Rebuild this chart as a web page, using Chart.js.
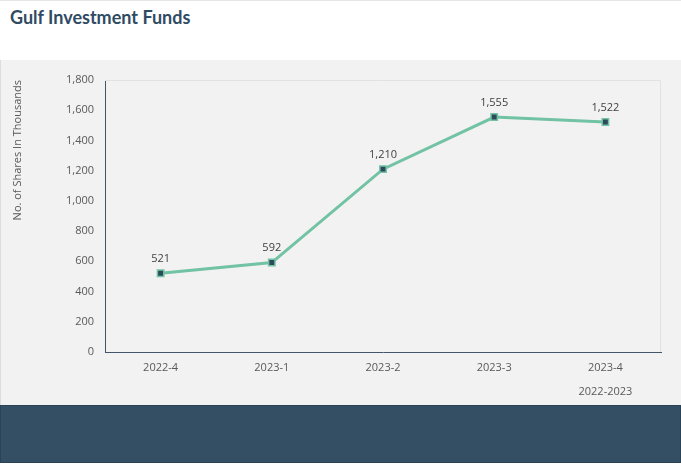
<!DOCTYPE html>
<html lang="en">
  <head>
    <meta charset="UTF-8" />
    <title>Gulf Investment Funds</title>
    <style>
      body { margin: 0; width: 681px; height: 465px; overflow: hidden; background: #fff; font-family: 'Open Sans', sans-serif; }
      .head { height: 59px; border-top: 1px solid #e6e6e6; position: relative; }
      .head h1 { margin: 0; position: absolute; left: 10px; top: 5px; font-size: 18px; font-weight: 700; color: #2f4b63; font-family: Lato, 'Open Sans', sans-serif; }
      .panel { height: 345px; background: #f2f2f2; border-left: 1px solid #dcdcdc; }
      .foot { height: 58px; background: #344f63; border: 1px solid #2a4356; box-sizing: border-box; }
    </style>
  </head>

  <body>
    <script src="https://cdn.jsdelivr.net/npm/chart.js"></script>
    <div class="head"><h1>Gulf Investment Funds</h1></div>
    <div class="panel"><canvas id="line-chart" width="680" height="345"></canvas></div>
    <div class="foot"></div>

    <script>
      const quarters = ['2022-4', '2023-1', '2023-2', '2023-3', '2023-4']
      const shares = [521, 592, 1210, 1555, 1522]
      const yTicks = [0, 200, 400, 600, 800, 1000, 1200, 1400, 1600, 1800]

      const extras = {
        id: 'extras',
        afterDraw(chart) {
          const { ctx, chartArea: a, scales } = chart
          ctx.save()
          // faint border top / right
          ctx.strokeStyle = '#e2e2e2'
          ctx.lineWidth = 1
          ctx.beginPath()
          ctx.moveTo(a.left, a.top + 0.5)
          ctx.lineTo(a.right - 0.5, a.top + 0.5)
          ctx.lineTo(a.right - 0.5, a.bottom)
          ctx.stroke()
          // value labels
          ctx.fillStyle = '#404040'
          ctx.font = '11px "Open Sans", sans-serif'
          ctx.textAlign = 'center'
          ctx.textBaseline = 'bottom'
          chart.getDatasetMeta(0).data.forEach((pt, i) => {
            ctx.fillText(shares[i].toLocaleString('en-US'), pt.x, pt.y - 9)
          })
          // x title under last category
          ctx.fillStyle = '#595959'
          ctx.textBaseline = 'middle'
          ctx.fillText('2022-2023', scales.x.getPixelForValue(quarters.length - 1), a.bottom + 40)
          ctx.restore()
        },
      }

      new Chart(document.getElementById('line-chart'), {
        type: 'line',
        data: {
          labels: quarters,
          datasets: [
            {
              label: 'Shares',
              data: shares,
              borderColor: '#72c2a4',
              borderWidth: 3,
              pointStyle: 'rect',
              pointRadius: 4.5,
              pointBackgroundColor: '#2c4a5c',
              pointBorderColor: '#72c2a4',
              pointBorderWidth: 1.5,
              tension: 0,
            },
          ],
        },
        options: {
          responsive: false,
          animation: false,
          layout: { padding: { top: 20, right: 20, left: 10, bottom: 0 } },
          plugins: { legend: { display: false }, tooltip: { enabled: false } },
          scales: {
            x: {
              offset: true,
              grid: { display: false, drawTicks: false },
              border: { color: '#44546a', width: 1 },
              ticks: { color: '#595959', font: { size: 11, family: 'Open Sans' }, padding: 9 },
              afterFit: (s) => { s.height = 53 },
            },
            y: {
              min: 0,
              max: 1800,
              afterBuildTicks: (s) => { s.ticks = yTicks.map((v) => ({ value: v })) },
              grid: { display: false, drawTicks: false },
              border: { color: '#44546a', width: 1 },
              ticks: { color: '#595959', font: { size: 11, family: 'Open Sans' }, padding: 11 },
              title: {
                display: true,
                text: 'No. of Shares In Thousands',
                align: 'end',
                color: '#595959',
                font: { size: 11, family: 'Open Sans' },
                padding: { top: 0, bottom: 0 },
              },
              afterFit: (s) => { s.width = 94 },
            },
          },
        },
        plugins: [extras],
      })
    </script>
  </body>
</html>
